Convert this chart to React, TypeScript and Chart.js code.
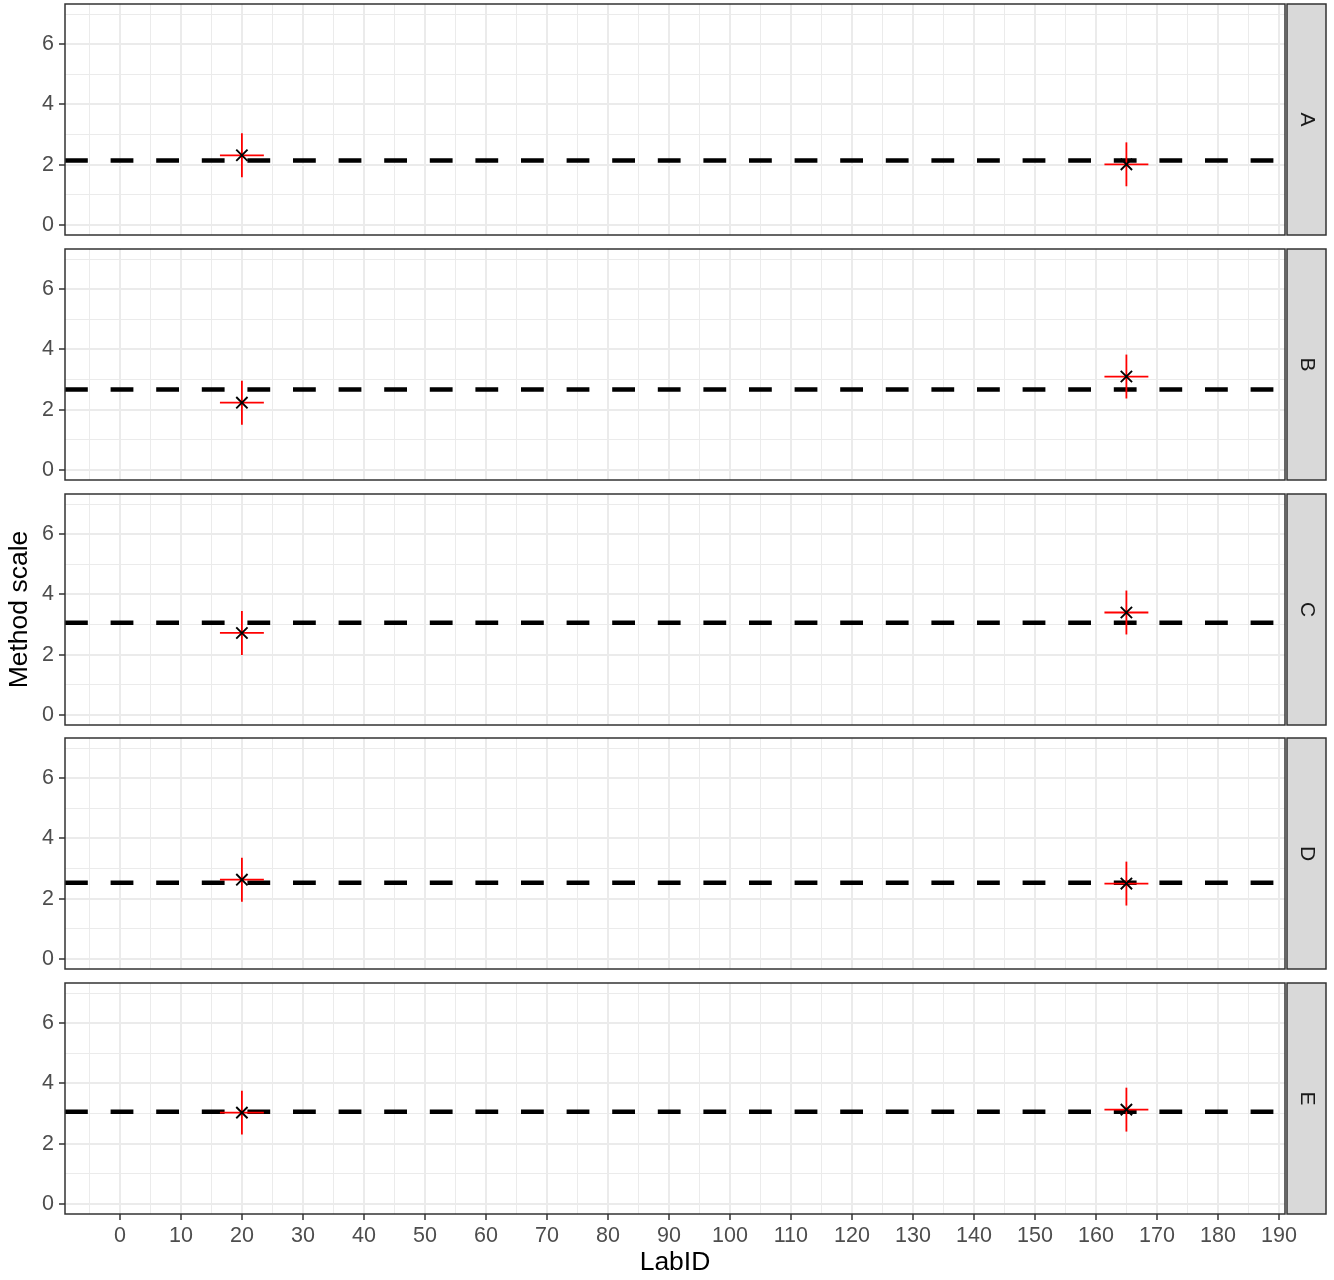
import React, { useEffect, useRef } from "react";
import { Chart, registerables } from "chart.js";
Chart.register(...registerables);

// ---- data ----
const panelLabels = ["A", "B", "C", "D", "E"];
const labIds = [20, 165];
const meanLine = [2.14, 2.67, 3.06, 2.53, 3.06];
const lab20Values = [2.31, 2.23, 2.72, 2.63, 3.03];
const lab165Values = [2.01, 3.1, 3.4, 2.5, 3.13];
const lab20Unc = [0.73, 0.73, 0.73, 0.73, 0.73];
const lab165Unc = [0.73, 0.73, 0.73, 0.73, 0.73];
const labIdHalfWidth = [3.6, 3.6];
const xTickValues = [-5, 0, 5, 10, 15, 20, 25, 30, 35, 40, 45, 50, 55, 60, 65, 70, 75, 80, 85, 90, 95, 100, 105, 110, 115, 120, 125, 130, 135, 140, 145, 150, 155, 160, 165, 170, 175, 180, 185, 190];
const yTickValues = [0, 1, 2, 3, 4, 5, 6, 7];
const xAxisTitle = "LabID";
const yAxisTitle = "Method scale";

const X_MIN = -9;
const X_MAX = 191;
const Y_MIN = -0.34;
const Y_MAX = 7.34;

const FONT = "'Liberation Sans', Arial, Helvetica, sans-serif";
const W = 1334;
const canvasTops = [0, 245, 490, 734, 979];
const canvasHeights = [245, 245, 245, 245, 301];

const framePlugin = {
  id: "frame",
  afterDatasetsDraw(chart: any, _args: any, opts: any) {
    const { ctx, chartArea } = chart;
    const { left, right, top, bottom } = chartArea;
    ctx.save();
    ctx.strokeStyle = "#333333";
    ctx.lineWidth = 1.5;
    ctx.strokeRect(left, top, right - left, bottom - top);
    // strip
    const sx = right + 2;
    const sw = 1326 - sx;
    ctx.fillStyle = "#D9D9D9";
    ctx.fillRect(sx, top, sw, bottom - top);
    ctx.strokeRect(sx, top, sw, bottom - top);
    ctx.fillStyle = "#1A1A1A";
    ctx.font = `21px ${FONT}`;
    ctx.textAlign = "center";
    ctx.textBaseline = "middle";
    ctx.translate(sx + sw / 2, (top + bottom) / 2);
    ctx.rotate(Math.PI / 2);
    ctx.fillText(opts.label, 0, 0);
    ctx.restore();
  },
};

function buildChart(canvas: HTMLCanvasElement, i: number) {
  const isBottom = i === panelLabels.length - 1;
  const isMiddle = i === 2;
  const values = [lab20Values[i], lab165Values[i]];
  const uncs = [lab20Unc[i], lab165Unc[i]];

  const datasets: any[] = [];
  datasets.push({
    data: labIds.map((x, j) => ({ x, y: values[j] })),
    pointStyle: "crossRot",
    pointRadius: 8,
    pointBorderWidth: 1.9,
    pointBorderColor: "#000000",
    borderColor: "#000000",
    backgroundColor: "#000000",
    showLine: false,
    order: 0,
  });
  labIds.forEach((x, j) => {
    datasets.push({
      data: [
        { x, y: values[j] - uncs[j] },
        { x, y: values[j] + uncs[j] },
      ],
      showLine: true,
      borderColor: "#FF0000",
      borderWidth: 1.8,
      pointRadius: 0,
      order: 1,
    });
    datasets.push({
      data: [
        { x: x - labIdHalfWidth[j], y: values[j] },
        { x: x + labIdHalfWidth[j], y: values[j] },
      ],
      showLine: true,
      borderColor: "#FF0000",
      borderWidth: 1.8,
      pointRadius: 0,
      order: 1,
    });
  });
  datasets.push({
    data: [
      { x: X_MIN, y: meanLine[i] },
      { x: X_MAX, y: meanLine[i] },
    ],
    showLine: true,
    borderColor: "#000000",
    borderWidth: 4.5,
    borderDash: [22.8, 22.8],
    pointRadius: 0,
    order: 2,
  });

  return new Chart(canvas, {
    type: "scatter",
    data: { datasets },
    plugins: [framePlugin],
    options: {
      animation: false,
      responsive: false,
      events: [],
      layout: { autoPadding: false, padding: { left: 0, right: 49, top: 4, bottom: 0 } },
      plugins: {
        legend: { display: false },
        tooltip: { enabled: false },
        frame: { label: panelLabels[i] },
      } as any,
      scales: {
        x: {
          type: "linear",
          min: X_MIN,
          max: X_MAX,
          afterBuildTicks: (s: any) => {
            s.ticks = xTickValues.map((v) => ({ value: v }));
          },
          afterFit: (s: any) => {
            s.height = isBottom ? 66 : 10;
            s.paddingLeft = 0;
            s.paddingRight = 0;
          },
          border: { display: false },
          grid: {
            color: "#EBEBEB",
            lineWidth: (c: any) => (c.tick && c.tick.value % 10 === 0 ? 2 : 1),
            drawTicks: isBottom,
            tickLength: 6,
            tickWidth: 1.5,
            tickColor: (c: any) =>
              c.tick && c.tick.value % 10 === 0 ? "#333333" : "rgba(0,0,0,0)",
          },
          ticks: {
            display: isBottom,
            autoSkip: false,
            maxRotation: 0,
            minRotation: 0,
            padding: 3,
            color: "#4D4D4D",
            font: { family: FONT, size: 21.5 },
            callback: (v: any) => (v % 10 === 0 ? String(v) : ""),
          },
          title: {
            display: isBottom,
            text: xAxisTitle,
            color: "#000000",
            font: { family: FONT, size: 26.5 },
            padding: { top: 2, bottom: 1 },
          },
        },
        y: {
          type: "linear",
          min: Y_MIN,
          max: Y_MAX,
          afterBuildTicks: (s: any) => {
            s.ticks = yTickValues.map((v) => ({ value: v }));
          },
          afterFit: (s: any) => {
            s.width = 65;
            s.paddingTop = 0;
            s.paddingBottom = 0;
          },
          border: { display: false },
          grid: {
            color: "#EBEBEB",
            lineWidth: (c: any) => (c.tick && c.tick.value % 2 === 0 ? 2 : 1),
            drawTicks: true,
            tickLength: 6,
            tickWidth: 1.5,
            tickColor: (c: any) =>
              c.tick && c.tick.value % 2 === 0 ? "#333333" : "rgba(0,0,0,0)",
          },
          ticks: {
            autoSkip: false,
            padding: 5,
            color: "#4D4D4D",
            font: { family: FONT, size: 21.5 },
            callback: (v: any) => (v % 2 === 0 ? String(v) : ""),
          },
          title: {
            display: isMiddle,
            text: yAxisTitle,
            color: "#000000",
            font: { family: FONT, size: 26.5 },
            padding: { top: 4, bottom: 0 },
          },
        },
      },
    } as any,
  });
}

export default function App() {
  const refs = useRef<(HTMLCanvasElement | null)[]>([]);
  useEffect(() => {
    const charts = refs.current.map((c, i) => (c ? buildChart(c, i) : null));
    return () => {
      charts.forEach((ch) => ch && ch.destroy());
    };
  }, []);
  return (
    <div
      style={{
        position: "absolute",
        left: 0,
        top: 0,
        width: W,
        height: 1280,
        background: "#FFFFFF",
        overflow: "hidden",
      }}
    >
      {panelLabels.map((p, i) => (
        <canvas
          key={p}
          ref={(el) => {
            refs.current[i] = el;
          }}
          width={W}
          height={canvasHeights[i]}
          style={{
            position: "absolute",
            left: 0,
            top: canvasTops[i],
            width: W,
            height: canvasHeights[i],
          }}
        />
      ))}
    </div>
  );
}
